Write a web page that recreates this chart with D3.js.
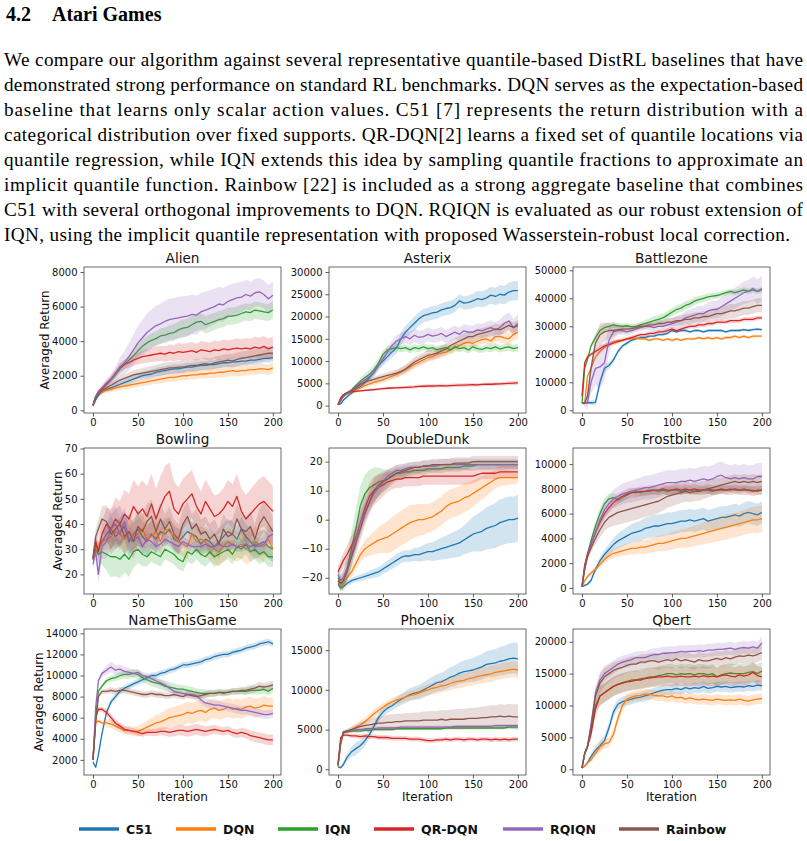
<!DOCTYPE html>
<html>
<head>
<meta charset="utf-8">
<script src="https://cdn.jsdelivr.net/npm/d3@7/dist/d3.min.js"></script>
<style>
  body { margin: 0; background: #fff; }
  svg { display: block; }
</style>
</head>
<body>
<svg id="page" width="807" height="841"></svg>
<script>
// algorithms, colours (matplotlib tab10)
const algos = ["C51", "DQN", "IQN", "QR-DQN", "RQIQN", "Rainbow"];
const colors = ["#1f77b4", "#ff7f0e", "#2ca02c", "#d62728", "#9467bd", "#8c564b"];

// iterations where the mean curves were read, and where the band widths were read
const iters = [0, 3, 6, 10, 15, 20, 25, 30, 35, 40, 45, 50, 55, 60, 65, 70, 75, 80, 85, 90, 95, 100,
  105, 110, 115, 120, 125, 130, 135, 140, 145, 150, 155, 160, 165, 170, 175, 180, 185, 190, 195, 200];
const spreadIters = [0, 20, 40, 60, 80, 100, 120, 140, 160, 180, 200];

// ---- Alien ---- (order: C51, DQN, IQN, QR-DQN, RQIQN, Rainbow)
const alien = [
  [250,600,850,1050,1200,1300,1400,1500,1600,1700,1800,1900,2000,2050,2100,2200,2250,2300,2350,2400,2400,2450,2500,2500,2550,2600,2600,2650,2650,2700,2750,2750,2800,2800,2850,2850,2900,2900,2950,3000,3000,3050],
  [300,700,950,1050,1150,1200,1300,1350,1400,1450,1500,1550,1600,1650,1700,1750,1800,1850,1900,1900,1950,2000,2000,2050,2050,2100,2100,2150,2150,2200,2200,2250,2300,2250,2300,2300,2350,2350,2400,2400,2350,2450],
  [300,800,1050,1250,1500,1750,2050,2400,2650,2900,3150,3450,3700,3900,4050,4150,4300,4350,4450,4500,4650,4750,4800,4950,5100,5150,4950,5050,5150,5250,5300,5450,5450,5500,5600,5700,5650,5800,5750,5700,5650,5800],
  [300,800,1050,1250,1500,1800,2150,2500,2650,2750,2900,3000,3100,3150,3200,3250,3300,3250,3350,3300,3400,3350,3400,3450,3350,3500,3450,3400,3500,3450,3550,3500,3550,3600,3550,3600,3550,3650,3600,3700,3550,3650],
  [300,800,1100,1300,1600,1800,2100,2500,2750,3100,3500,3900,4200,4500,4700,4900,5000,5150,5250,5300,5350,5400,5450,5550,5500,5700,5800,5900,6000,6150,6100,6300,6400,6500,6550,6700,6600,6800,6850,6700,6450,6650],
  [300,700,950,1150,1300,1450,1600,1750,1850,1950,2050,2100,2150,2200,2250,2300,2350,2400,2450,2450,2500,2500,2550,2600,2600,2650,2700,2650,2750,2800,2850,2900,2850,2950,3000,3050,3100,3150,3200,3250,3300,3300]
];
const alienSpread = [
  [50,150,200,250,250,250,250,250,250,250,250],
  [50,150,200,200,250,250,250,300,300,300,300],
  [50,200,300,400,450,500,500,500,500,500,500],
  [50,200,300,400,450,500,500,550,550,600,600],
  [50,300,800,1100,1200,1200,1100,1000,900,800,800],
  [50,150,250,300,350,350,350,350,400,400,400]
];

// ---- Asterix ----
const asterix = [
  [200,400,1200,2000,2800,3600,4300,5200,6300,7500,9000,10000,11000,12000,13000,15000,16500,17500,18500,19500,20200,20500,20800,21000,21500,21800,22000,22500,23500,23000,23200,23500,24000,23800,24200,24800,24500,25000,24800,25500,25800,25800],
  [200,1500,2300,2700,3100,3500,4000,4500,4900,5200,5500,5800,6200,6600,7000,7500,8000,8700,9300,9800,10300,10800,11000,11500,11800,12000,12500,13000,13500,14000,14200,14000,14500,14800,15000,14500,15500,15500,15200,15000,16000,16500],
  [200,1200,2200,2800,3500,4500,5500,6300,7000,8000,9500,11500,12500,12800,13000,12800,13000,12500,13000,12800,13200,12800,13000,12500,12800,13000,12500,13200,12800,13000,12500,13200,12800,12600,13000,12800,13200,12700,13000,13200,12800,13000],
  [200,1800,2500,2900,3100,3200,3300,3400,3500,3600,3700,3800,3900,3950,4000,4050,4100,4150,4200,4300,4350,4400,4400,4450,4500,4450,4500,4550,4600,4600,4650,4700,4650,4750,4800,4800,4850,4900,4950,5000,5050,5100],
  [200,1000,2000,2700,3300,4200,5000,5800,6500,7500,9000,10500,12000,13500,14500,15000,15500,15000,15800,15300,15500,16000,15600,15800,16200,15500,16000,16500,16000,16800,16500,16500,17000,16800,17200,17500,17000,17500,18500,19000,17500,18500],
  [200,1500,2300,2800,3300,4000,4800,5300,5600,5900,6200,6500,6800,7000,7300,7700,8200,9000,9800,10300,10800,11300,11500,11800,12300,12700,13500,14000,14500,15000,15500,15500,16000,16200,16500,16800,17200,17000,17500,18000,17500,18000]
];
const asterixSpread = [
  [100,500,800,1200,1500,1500,1500,1500,1800,2000,2200],
  [100,500,600,800,1000,1000,1000,1000,1000,1200,1500],
  [100,500,1200,800,800,800,800,800,800,800,800],
  [50,200,300,300,400,400,400,400,400,400,500],
  [100,600,1000,1200,1500,1500,1500,1500,1500,1800,2000],
  [100,500,600,800,1000,1200,1200,1200,1200,1200,1200]
];

// ---- Battlezone ----
const battlezone = [
  [2500,2700,2700,2700,2800,10000,15000,16000,18000,21000,23000,24000,25000,25500,26000,26000,26500,26500,27000,27000,27500,28500,28000,28500,28500,28000,28500,28500,28000,28500,28500,28500,28500,28000,28500,28500,28500,28800,28500,28800,29000,28800],
  [2500,2500,12000,15000,19000,21000,22500,23500,24500,25000,25000,25500,25500,25800,25500,25500,25000,25500,25500,25000,25500,25000,25500,25000,25500,25500,25500,26000,25500,26000,25500,26000,25500,26000,26000,26500,26000,26500,26000,26500,26500,26500],
  [2500,15000,18000,23000,26000,28500,29500,30000,30500,30200,30000,30200,29800,30000,30500,31000,31500,32000,32500,33000,34000,35000,36000,36500,37500,38000,39000,39500,40000,40500,40800,41000,41500,42000,42500,42000,42500,43000,42500,43000,42500,43000],
  [5000,17000,19000,20000,21000,22000,23000,23500,24000,24500,25000,25500,26000,26500,27000,27000,27500,27500,28000,28000,28500,29000,28500,29000,29500,30000,30000,30500,30500,31000,31000,31500,31500,31500,32000,32000,32000,32500,32500,32500,33000,33000],
  [2500,2500,2500,10000,15000,15500,17000,25000,28000,28500,28500,28000,28500,29000,29500,30000,30000,29500,30000,30000,30500,31000,31500,32000,33000,33500,34000,34500,34500,35500,36000,36000,37000,38000,39000,40000,41000,42000,42500,43500,42500,43500],
  [2500,2500,5000,15000,24000,27000,28000,28500,28500,28800,29000,29000,29200,29500,30000,30000,30500,30500,31000,31000,31500,31500,32000,32000,32500,32500,33000,33000,33500,33500,34000,34500,34500,35000,35500,35500,36000,36500,36500,37000,37500,37500]
];
const battlezoneSpread = [
  [0,1500,800,500,500,500,500,500,500,500,500],
  [0,1000,500,500,500,500,500,500,500,500,500],
  [0,1500,1000,1000,1500,1500,1500,1200,1000,1000,1000],
  [500,1000,700,700,700,800,800,800,800,800,800],
  [0,8000,1500,1200,1500,2000,2500,3000,3500,4000,4500],
  [0,4000,1500,1000,1000,1500,2000,2000,2500,2500,2500]
];

// ---- Bowling ----
const bowling = [
  [26,32,30,33,36,38,35,37,39,33,36,38,35,33,36,34,37,36,38,34,33,35,37,36,35,32,34,33,31,33,35,37,36,34,38,35,33,31,32,33,31,30],
  [27,31,30,33,34,35,37,36,34,37,35,36,38,34,35,37,33,38,37,35,33,32,31,36,33,34,33,31,30,29,31,33,32,31,32,30,31,33,32,31,34,30],
  [26,30,28,29,28,27,27,26,28,26,29,30,28,27,29,28,27,30,29,28,26,25,29,28,30,28,27,29,27,28,29,30,28,31,30,32,29,30,28,29,27,27],
  [26,33,29,36,40,38,42,40,44,42,47,44,46,43,48,42,47,51,53,46,44,48,50,52,47,44,49,46,43,44,46,49,47,51,45,42,44,46,48,49,47,45],
  [24,29,20,31,33,38,40,36,41,34,33,35,31,34,33,31,32,34,33,32,31,33,32,31,31,31,32,31,31,32,31,31,32,31,31,32,31,32,31,32,35,36],
  [27,35,38,42,41,36,38,40,35,37,33,39,37,41,43,37,42,38,41,36,34,40,43,38,40,36,37,34,36,32,38,35,36,42,38,37,39,34,40,43,40,37]
];
const bowlingSpread = [
  [2,5,6,6,5,5,5,5,5,5,5],
  [2,5,6,6,5,5,5,6,6,6,6],
  [2,8,7,4,4,4,4,4,4,4,4],
  [2,8,10,12,12,10,9,8,9,10,10],
  [2,8,5,3,2,2,2,2,2,3,3],
  [2,8,7,7,6,6,6,6,6,6,6]
];

// ---- DoubleDunk ----
const doubledunk = [
  [-22,-23.5,-23,-22,-21,-20.5,-20,-19.5,-19,-18.5,-18,-17,-16,-15,-14,-13,-12.5,-12.5,-12,-12,-11.5,-11,-11,-10.5,-10,-9.5,-9,-8.5,-8,-7,-6,-5,-4.5,-4,-3,-2.5,-2,-1,-0.5,0,0,0.5],
  [-21,-23,-22,-20,-18,-15,-12,-10,-9,-8,-7,-6.5,-6,-5,-4,-3,-2,-1,-0.5,0,0,0.5,1,2,3,4.5,5.5,6,6.5,7.5,8,9,10,11,12,13,14,14.5,14.5,14.5,14.5,14.5],
  [-20,-22,-21,-17,-10,-3,5,9,11,12,13,13.5,14,15,16,16,16.5,16.5,17,17,17,17.5,17.5,17.5,17.5,18,18,18,18,18.5,18.5,18.5,19,19,19,19,19,19,19,19,19,19],
  [-18,-16,-14,-12,-9,-6,-1,4,8,10,11,12,13,13.5,14,14,14.5,14.5,14.5,14.5,15,15,15,15,15,15,15,15,15,15,15,15,15.5,16,16,16,16,16.5,16.5,16.5,16.5,16.5],
  [-19,-21,-20,-17,-12,-6,-1,3,6,9,11,13,15,16,17,17,17.5,18,18,18,18.5,18.5,18.5,18.5,19,19,19,19,19,19,19,19,19,19,19,19,19,19,19,19,19,19],
  [-21,-22,-21,-18,-13,-8,-3,2,6,10,12,13,14,15,16,16.5,17,17.5,18,18,18.5,18.5,19,19,19,19,19,19.5,19.5,19.5,19.5,20,20,20,20,20,20,20,20,20,20,20]
];
const doubledunkSpread = [
  [1,1,1.5,2,2,3,4,5,7,8,8],
  [1,2,4,6,6,5,5,5,4,3,2],
  [2,7,6,2,2,1.5,1.5,1.5,1.5,1.5,1.5],
  [2,4,5,3,3,3,3,3,2,2,2],
  [2,4,3,2,2,2,2,2,2,2,2],
  [2,4,4,3,2,2,2,2,2,2,2]
];

// ---- Frostbite ----
const frostbite = [
  [100,200,300,600,1500,2200,2700,3100,3500,3800,4000,4200,4400,4500,4600,4800,4900,5000,5000,5100,5200,5200,5300,5400,5400,5500,5400,5500,5600,5400,5500,5600,5700,5700,5800,5900,5800,6000,6100,6000,5900,6100],
  [100,600,900,1200,1500,1900,2300,2600,2800,2900,3000,3100,3200,3200,3300,3300,3400,3500,3600,3600,3700,3800,3900,4000,4000,4100,4200,4300,4400,4500,4600,4700,4800,4900,5000,5100,5200,5300,5400,5500,5500,5600],
  [100,1800,2700,3800,5000,6000,6800,7200,7300,7100,7300,7500,7700,7800,7700,7800,7800,7900,7800,7900,7800,7900,7900,7800,7900,7900,7800,7900,7900,7900,7800,7900,7900,7900,8000,7900,7900,8000,7900,7900,7800,7900],
  [100,1800,2700,3500,4500,5300,6000,6500,6900,7200,7400,7600,7700,7700,7800,7800,7900,7900,7900,8000,7900,7900,8000,7900,8000,7900,8000,7900,7900,8000,7900,7900,8000,7900,7900,8000,7900,7900,7900,7800,7900,7900],
  [100,1500,2500,3500,4500,5500,6300,6800,7200,7400,7600,7700,7800,7900,8000,8100,8100,8200,8300,8400,8500,8500,8500,8600,8600,8700,8600,8700,8800,8700,8800,9000,9100,8900,8800,8900,8800,8900,8800,8800,9000,9000],
  [100,1500,2500,3200,4000,4700,5300,5700,5900,6100,6200,6300,6400,6500,6600,6700,6800,6900,7000,7200,7400,7500,7600,7700,7800,7700,7800,7800,7900,8000,8100,8200,8300,8400,8500,8600,8500,8600,8500,8600,8500,8600]
];
const frostbiteSpread = [
  [50,300,600,800,900,900,900,900,900,900,900],
  [50,300,400,500,600,700,800,900,1000,1000,1100],
  [50,500,300,300,300,300,300,300,300,300,300],
  [50,400,400,400,400,400,400,400,400,400,400],
  [50,500,800,900,1000,1000,1000,1100,1100,1100,1100],
  [50,600,1000,1000,1000,900,800,700,600,600,600]
];

// ---- NameThisGame ----
const namethisgame = [
  [1800,1300,2500,4500,6500,7500,8000,8500,8800,9000,9200,9400,9600,9800,10000,10000,10200,10300,10500,10600,10800,11000,11000,11100,11200,11300,11500,11600,11800,11900,12000,12000,12200,12300,12400,12600,12700,12800,13000,13100,13200,13000],
  [2000,5500,5700,5500,5500,5400,5200,5000,4800,4800,4700,4700,4900,5100,5300,5500,5600,5800,6000,6100,6200,6300,6500,6400,6600,6700,6500,6800,6900,6700,6800,7000,6800,6900,6800,7000,7100,6900,7000,7200,7100,7100],
  [2000,6000,8500,9000,9500,9700,9800,10000,10100,10100,10200,10100,9800,9600,9400,9300,9200,9000,8900,8800,8700,8700,8600,8500,8400,8300,8300,8300,8300,8400,8400,8400,8500,8500,8500,8500,8600,8600,8600,8700,8500,8800],
  [2000,6000,6800,6800,6500,6000,5500,5200,4900,4800,4700,4600,4500,4600,4600,4600,4700,4700,4600,4700,4800,4800,4700,4800,4900,4800,4700,4800,4900,4800,4700,4800,4600,4500,4600,4500,4300,4200,4100,4000,3900,3900],
  [2000,7000,9500,10200,10500,10800,10500,10600,10400,10300,10200,10300,10000,9900,9700,9500,9300,9100,8800,8500,8400,8300,8200,8200,8100,7700,7400,7300,7200,7200,7100,7000,6900,6800,6700,6700,6600,6500,6400,6300,6300,6400],
  [2000,5500,8000,8500,8500,8600,8500,8600,8600,8500,8400,8300,8200,8200,8300,8200,8200,8100,8100,8200,8100,8000,8200,8100,8000,8100,8200,8300,8300,8400,8300,8400,8500,8500,8600,8600,8700,8800,9000,8900,9000,9100]
];
const namethisgameSpread = [
  [100,300,300,300,300,300,300,300,300,300,300],
  [100,400,400,600,900,1000,1000,900,900,900,800],
  [100,300,400,400,500,400,400,300,300,400,400],
  [100,400,300,300,400,500,500,400,400,500,500],
  [100,500,400,300,300,300,400,400,400,400,400],
  [100,300,300,300,300,300,300,300,300,400,400]
];

// ---- Phoenix ----
const phoenix = [
  [300,200,600,1500,2200,2600,3000,3600,4400,5400,6500,7200,7700,8000,8400,8800,9100,9400,9600,9700,10000,10300,10600,10900,11000,11300,11600,11800,12100,12300,12400,12500,12700,12900,13200,13300,13400,13600,13700,13900,14000,13900],
  [300,3000,4600,4800,5000,5300,5600,6000,6500,7000,7400,7800,8200,8500,8700,8900,9100,9300,9400,9600,9800,10000,10200,10300,10500,10600,10800,11000,11100,11200,11400,11500,11700,11800,11900,12000,12200,12300,12400,12500,12600,12500],
  [500,3500,4600,4700,4800,4800,4800,4900,4900,5000,5000,5000,5000,5000,5100,5100,5100,5100,5100,5100,5100,5100,5100,5100,5100,5200,5200,5200,5200,5200,5200,5200,5200,5200,5200,5200,5200,5200,5200,5300,5300,5300],
  [600,4000,4300,4300,4200,4200,4100,4200,4100,4100,4000,4000,4000,3900,3900,3900,3900,3800,3800,3800,3700,3600,3600,3700,3700,3800,3700,3800,3800,3700,3800,3800,3700,3800,3800,3700,3800,3700,3800,3700,3800,3800],
  [500,3500,4700,4800,4900,5000,5000,5100,5100,5100,5200,5200,5200,5200,5200,5300,5300,5300,5300,5300,5300,5300,5300,5300,5300,5300,5300,5400,5400,5400,5400,5400,5400,5400,5400,5400,5500,5500,5500,5500,5500,5500],
  [500,3500,4700,4800,5000,5200,5400,5500,5600,5700,5800,5800,5900,5900,6000,6000,6100,6100,6100,6100,6200,6200,6200,6200,6300,6200,6300,6300,6300,6300,6400,6400,6400,6500,6500,6600,6600,6700,6600,6700,6600,6600]
];
const phoenixSpread = [
  [100,800,500,600,800,1000,1200,1400,1600,1800,2000],
  [100,500,500,500,600,700,800,900,1000,1000,1000],
  [100,200,200,200,200,200,200,200,200,200,200],
  [100,300,300,300,300,300,300,300,300,300,300],
  [100,200,200,200,200,200,200,200,200,200,200],
  [100,400,800,1000,1000,1100,1200,1300,1400,1500,1600]
];

// ---- Qbert ----
const qbert = [
  [200,500,1000,2000,3000,3700,4500,6500,9000,10200,10600,10800,11000,11200,11300,11500,11700,12000,12200,12400,12500,12500,12700,12500,12800,12600,12800,12700,13000,12700,12800,13000,12900,13000,12800,12900,13000,12900,13100,13000,13200,13100],
  [200,500,1000,1500,2500,3500,4000,4200,5500,8000,10000,11000,11300,11500,11600,11800,11800,11600,11500,11500,11300,11500,11200,11300,11000,11200,11000,10900,11000,10900,10800,11000,10900,10800,10900,10800,11000,10800,10700,10900,11000,11100],
  [200,2500,3500,6000,10000,11500,12000,12500,13000,13300,13600,13800,14000,14000,14200,14300,14500,14500,14700,14800,15000,15000,14800,15000,14900,15000,14800,15000,15000,14800,15000,14500,14800,15000,15100,15000,15000,15000,15200,15300,15000,15400],
  [200,2500,3500,5500,9500,11500,12000,12500,13000,13300,13500,13700,13800,14000,14000,14200,14300,14400,14500,14500,14600,14500,14500,14600,14500,14500,14600,14500,14700,14500,14600,14500,14700,14800,14600,14500,14800,14600,14800,15200,14700,14500],
  [200,2500,3500,7000,12000,14000,15000,15500,16000,16500,16800,17000,17200,17500,17500,17500,17800,18000,18000,18200,18200,18300,18300,18500,18400,18500,18500,18600,18500,18700,18700,18800,18800,18900,19000,18800,19000,19100,19000,19200,19000,19800],
  [200,2500,3500,6500,11500,13500,14500,15000,15500,15800,16000,16300,16500,16500,16800,16800,17000,17000,16800,17000,17200,17000,17300,17000,17200,17000,16800,17200,17000,17000,17200,17400,17200,17500,17300,17600,17800,17700,17900,17800,18000,18300]
];
const qbertSpread = [
  [50,800,800,800,800,800,800,800,800,800,800],
  [50,800,800,800,800,800,800,800,800,800,800],
  [50,1500,1500,1500,1500,1500,1500,1500,1500,1500,1500],
  [50,1500,1500,1500,1500,1500,1500,1500,1500,1500,1500],
  [50,1200,1000,1000,1000,1000,1000,1000,1000,1000,1000],
  [50,1500,1200,1200,1200,1200,1200,1200,1200,1200,1200]
];

const gameNames = ["Alien", "Asterix", "Battlezone", "Bowling", "DoubleDunk", "Frostbite", "NameThisGame", "Phoenix", "Qbert"];
const gameMeans = [alien, asterix, battlezone, bowling, doubledunk, frostbite, namethisgame, phoenix, qbert];
const gameSpreads = [alienSpread, asterixSpread, battlezoneSpread, bowlingSpread, doubledunkSpread, frostbiteSpread, namethisgameSpread, phoenixSpread, qbertSpread];
const yDomains = [[-156, 8290], [-1660, 31120], [-960, 51180], [12.2, 70.2], [-25.6, 24.7], [-490, 11300], [567, 14410], [-720, 17660], [-900, 22000]];
const yTicks = [
  [0, 2000, 4000, 6000, 8000],
  [0, 5000, 10000, 15000, 20000, 25000, 30000],
  [0, 10000, 20000, 30000, 40000, 50000],
  [20, 30, 40, 50, 60, 70],
  [-20, -10, 0, 10, 20],
  [0, 2000, 4000, 6000, 8000, 10000],
  [2000, 4000, 6000, 8000, 10000, 12000, 14000],
  [0, 5000, 10000, 15000],
  [0, 5000, 10000, 15000, 20000]
];
const xTicks = [0, 50, 100, 150, 200];

const paragraph = [
  "We compare our algorithm against several representative quantile-based DistRL baselines that have",
  "demonstrated strong performance on standard RL benchmarks. DQN serves as the expectation-based",
  "baseline that learns only scalar action values.  C51 [7] represents the return distribution with a",
  "categorical distribution over fixed supports. QR-DQN[2] learns a fixed set of quantile locations via",
  "quantile regression, while IQN extends this idea by sampling quantile fractions to approximate an",
  "implicit quantile function. Rainbow [22] is included as a strong aggregate baseline that combines",
  "C51 with several orthogonal improvements to DQN. RQIQN is evaluated as our robust extension of",
  "IQN, using the implicit quantile representation with proposed Wasserstein-robust local correction."
];

const svg = d3.select("#page");

// heading + text
svg.append("text").attr("x", 6).attr("y", 21)
  .attr("font-family", "Liberation Serif").attr("font-weight", "bold").attr("font-size", 20)
  .text("4.2");
svg.append("text").attr("x", 52).attr("y", 21)
  .attr("font-family", "Liberation Serif").attr("font-weight", "bold").attr("font-size", 20)
  .text("Atari Games");

paragraph.forEach((line, i) => {
  const t = svg.append("text")
    .attr("x", 4).attr("y", 65.5 + i * 25.1)
    .attr("font-family", "Liberation Serif").attr("font-size", 19.2)
    .text(line);
  // justify: stretch to the column width only if it fits naturally
  const target = i < paragraph.length - 1 ? 799 : 786;
  if (t.node().getComputedTextLength() < target) {
    t.attr("textLength", target).attr("lengthAdjust", "spacing");
  }
});

// panel grid
const colLeft = [84, 329, 573];
const rowTop = [267, 448, 629];
const pw = 197, ph = 146;
const fmt = v => v < 0 ? "\u2212" + Math.abs(v) : String(v);

gameNames.forEach((name, gi) => {
  const row = Math.floor(gi / 3), col = gi % 3;
  const g = svg.append("g").attr("transform", `translate(${colLeft[col]},${rowTop[row]})`);

  const x = d3.scaleLinear().domain([-10, 209]).range([0, pw]);
  const y = d3.scaleLinear().domain(yDomains[gi]).range([ph, 0]);

  g.append("clipPath").attr("id", "clip" + gi)
    .append("rect").attr("width", pw).attr("height", ph);
  const plot = g.append("g").attr("clip-path", `url(#clip${gi})`);

  gameMeans[gi].forEach((series, si) => {
    const spreadAt = d3.scaleLinear().domain(spreadIters).range(gameSpreads[gi][si]);
    const pts = series.map((v, k) => ({ it: iters[k], v: v, s: spreadAt(iters[k]) }));

    plot.append("path").datum(pts)
      .attr("fill", colors[si]).attr("fill-opacity", 0.2)
      .attr("d", d3.area().x(d => x(d.it)).y0(d => y(d.v - d.s)).y1(d => y(d.v + d.s)));
    plot.append("path").datum(pts)
      .attr("fill", "none").attr("stroke", colors[si]).attr("stroke-width", 1.3)
      .attr("stroke-linejoin", "round")
      .attr("d", d3.line().x(d => x(d.it)).y(d => y(d.v)));
  });

  // axes
  const xa = g.append("g").attr("transform", `translate(0,${ph})`)
    .call(d3.axisBottom(x).tickValues(xTicks).tickSize(3.5).tickPadding(2));
  const ya = g.append("g")
    .call(d3.axisLeft(y).tickValues(yTicks[gi]).tickFormat(fmt).tickSize(3.5).tickPadding(3));
  [xa, ya].forEach(a => {
    a.select(".domain").remove();
    a.selectAll("line").attr("stroke", "#333").attr("stroke-width", 0.8);
    a.selectAll("text").attr("font-family", "DejaVu Sans").attr("font-size", 10).attr("fill", "#111");
  });

  g.append("rect").attr("width", pw).attr("height", ph)
    .attr("fill", "none").attr("stroke", "#444").attr("stroke-width", 0.8);

  g.append("text").attr("x", pw / 2).attr("y", -4.5)
    .attr("text-anchor", "middle").attr("font-family", "DejaVu Sans").attr("font-size", 13.6)
    .attr("fill", "#111").text(name);

  if (col === 0) {
    let maxW = 0;
    ya.selectAll("text").each(function () { maxW = Math.max(maxW, this.getComputedTextLength()); });
    const lx = -3.5 - 3 - maxW - 3;
    g.append("text")
      .attr("transform", `translate(${lx},${ph / 2}) rotate(-90)`)
      .attr("text-anchor", "middle").attr("font-family", "DejaVu Sans").attr("font-size", 11.8)
      .attr("fill", "#111").text("Averaged Return");
  }
  if (row === 2) {
    g.append("text").attr("x", pw / 2).attr("y", ph + 26)
      .attr("text-anchor", "middle").attr("font-family", "DejaVu Sans").attr("font-size", 12)
      .attr("fill", "#111").text("Iteration");
  }
});

// legend
const legendX = [79, 176, 278, 374, 503, 619];
const legend = svg.append("g").attr("transform", "translate(0,829)");
algos.forEach((a, i) => {
  legend.append("line").attr("x1", legendX[i]).attr("x2", legendX[i] + 40)
    .attr("y1", 0).attr("y2", 0).attr("stroke", colors[i]).attr("stroke-width", 3.5);
  legend.append("text").attr("x", legendX[i] + 47).attr("y", 4.5)
    .attr("font-family", "DejaVu Sans").attr("font-weight", "bold").attr("font-size", 12.5)
    .attr("fill", "#111").text(a);
});
</script>
</body>
</html>
